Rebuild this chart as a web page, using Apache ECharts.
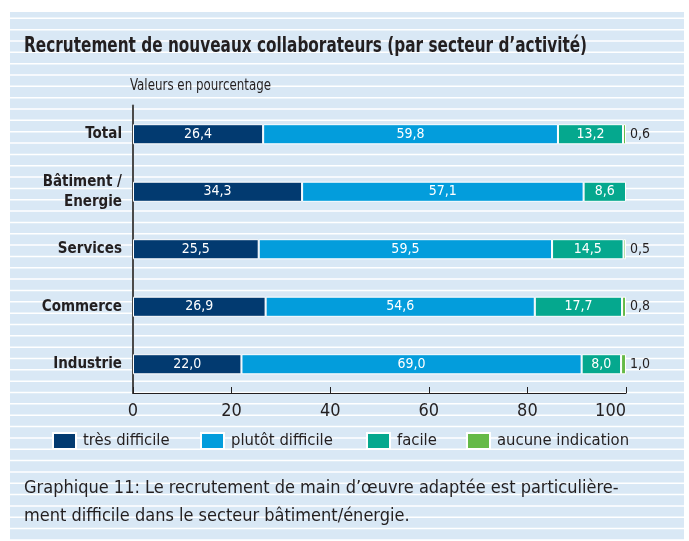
<!DOCTYPE html>
<html>
<head>
<meta charset="utf-8">
<script src="https://cdn.jsdelivr.net/npm/echarts@6/dist/echarts.min.js"></script>
<style>
  html, body { margin: 0; padding: 0; background: #fff; }
  #chart { width: 689px; height: 541px; }
</style>
</head>
<body>
<div id="chart"></div>
<script>
const categories = ['Total', 'Bâtiment /\nEnergie', 'Services', 'Commerce', 'Industrie']
const tresDifficile = [26.4, 34.3, 25.5, 26.9, 22.0]
const plutotDifficile = [59.8, 57.1, 59.5, 54.6, 69.0]
const facile = [13.2, 8.6, 14.5, 17.7, 8.0]
const aucuneIndication = [0.6, null, 0.5, 0.8, 1.0]
const xTickLabels = [0, 20, 40, 60, 80, 100]

const font = '"Liberation Sans Narrow", "DejaVu Sans Condensed", sans-serif'
const textDark = '#231f20'

const colors = {
  'très difficile': '#023a70',
  'plutôt difficile': '#039ddc',
  'facile': '#05a88e',
  'aucune indication': '#65ba47'
}

const fmt = v => (v == null ? '' : v.toFixed(1).replace('.', ','))

// striped background panel
const stripes = [{
  type: 'rect',
  shape: { x: 10, y: 12, width: 674, height: 528 },
  style: { fill: '#d9e8f5' },
  z: -10
}]
for (let y = 18.3; y < 540; y += 11.34) {
  stripes.push({
    type: 'line',
    shape: { x1: 10, y1: y, x2: 684, y2: y },
    style: { stroke: '#fff', lineWidth: 1.5 },
    z: -9
  })
}

function makeSeries(name, data, labelInside) {
  return {
    name,
    type: 'bar',
    stack: 'total',
    barWidth: '35%',
    data,
    itemStyle: { color: colors[name], borderColor: '#fff', borderWidth: 1 },
    label: labelInside
      ? { show: true, position: 'inside', color: '#fff', fontFamily: font, fontSize: 14, formatter: p => fmt(p.value) }
      : { show: true, position: 'right', distance: 4, color: textDark, fontFamily: font, fontSize: 14, formatter: p => fmt(p.value) },
    animation: false
  }
}

const legendLefts = [52, 200, 366, 466]
const legends = Object.keys(colors).map((name, i) => ({
  data: [name],
  left: legendLefts[i],
  top: 432,
  padding: 0,
  icon: 'rect',
  itemWidth: 23,
  itemHeight: 16,
  selectedMode: false,
  textStyle: { fontFamily: font, fontSize: 16.5, color: textDark, padding: [0, 0, 0, 2] }
}))

const chart = echarts.init(document.getElementById('chart'))
chart.setOption({
  animation: false,
  graphic: stripes.concat([
    {
      type: 'text',
      x: 24,
      y: 36,
      scaleX: 0.81,
      style: { text: 'Recrutement de nouveaux collaborateurs (par secteur d’activité)', fontFamily: font, fontWeight: 'bold', fontSize: 21, fill: textDark }
    },
    {
      type: 'text',
      x: 130,
      y: 79,
      scaleX: 0.88,
      style: { text: 'Valeurs en pourcentage', fontFamily: font, fontSize: 15, fill: textDark }
    },
    {
      type: 'text',
      x: 24,
      y: 474,
      style: {
        text: 'Graphique 11: Le recrutement de main d’œuvre adaptée est particulière-\nment difficile dans le secteur bâtiment/énergie.',
        fontFamily: font, fontSize: 18, lineHeight: 28, fill: textDark
      }
    }
  ]),
  legend: legends,
  grid: { left: 133, right: 63, top: 105.5, bottom: 148 },
  xAxis: {
    type: 'value',
    min: 0,
    max: 100,
    interval: 20,
    axisLine: { show: true, lineStyle: { color: '#231f20', width: 1 } },
    axisTick: { show: true, inside: true, length: 6, lineStyle: { color: '#231f20' } },
    splitLine: { show: false },
    axisLabel: {
      fontFamily: font, fontSize: 18, color: textDark, margin: 9,
      alignMaxLabel: 'right',
      formatter: v => (xTickLabels.includes(v) ? String(v) : '')
    }
  },
  yAxis: {
    type: 'category',
    inverse: true,
    data: categories,
    axisLine: { show: true, lineStyle: { color: '#4a4a4a', width: 2 } },
    axisTick: { show: false },
    axisLabel: { fontFamily: font, fontWeight: 'bold', fontSize: 15, lineHeight: 20, color: textDark, margin: 11 }
  },
  series: [
    makeSeries('très difficile', tresDifficile, true),
    makeSeries('plutôt difficile', plutotDifficile, true),
    makeSeries('facile', facile, true),
    makeSeries('aucune indication', aucuneIndication, false)
  ]
})
</script>
</body>
</html>
